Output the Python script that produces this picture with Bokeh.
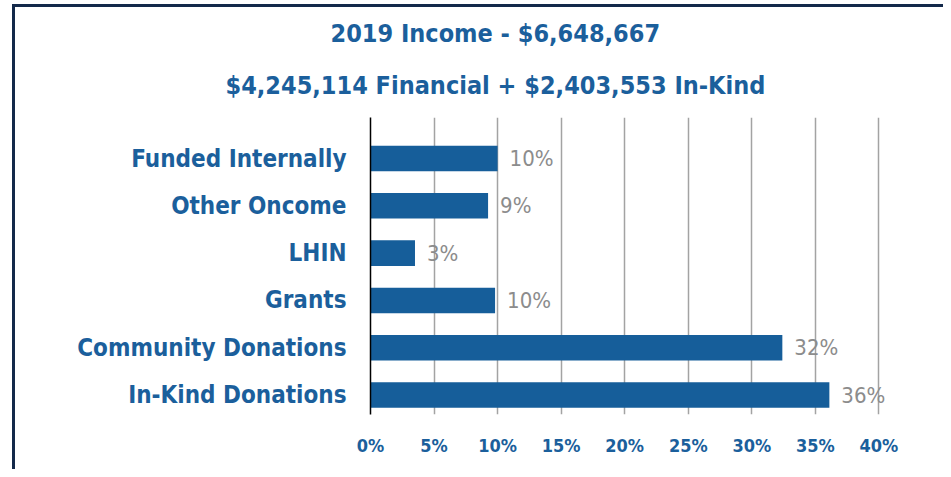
from bokeh.plotting import figure
from bokeh.models import ColumnDataSource, FixedTicker, Title
from bokeh.core.properties import value
from bokeh.embed import file_html
from bokeh.resources import INLINE

# ---- data ----
categories = ["Funded Internally", "Other Oncome", "LHIN", "Grants",
              "Community Donations", "In-Kind Donations"]
shares = [10.0, 9.25, 3.5, 9.8, 32.4, 36.1]          # percent of income
share_labels = ["10%", "9%", "3%", "10%", "32%", "36%"]
x_ticks = [0, 5, 10, 15, 20, 25, 30, 35, 40]
x_tick_labels = ["0%", "5%", "10%", "15%", "20%", "25%", "30%", "35%", "40%"]
title_line1 = "2019 Income - $6,648,667"
title_line2 = "$4,245,114 Financial + $2,403,553 In-Kind"

BLUE = "#165e9a"
TEXT_BLUE = "#1b5f9c"
GRAY = "#8c8c8c"
NAVY = "#13294a"
FONT = "DejaVu Sans Condensed"

n = len(categories)
ypos = [n - 1 - i for i in range(n)]
src = ColumnDataSource(dict(y=ypos, v=shares, lab=share_labels, cat=categories))

p = figure(width=943, height=469, output_backend="svg", toolbar_location=None,
           x_range=(0, 45), y_range=(-0.412, n - 1 + 0.867),
           min_border_left=370, min_border_right=1,
           min_border_top=117, min_border_bottom=55)
p.styles = {"box-shadow": (f"inset 12px 0 0 white, inset 0 4px 0 white, "
                           f"inset 15px 0 0 {NAVY}, inset 0 7px 0 {NAVY}")}
p.outline_line_color = None
p.background_fill_color = "white"
p.border_fill_color = None

p.hbar(y="y", right="v", left=0, height=0.54, source=src,
       fill_color=BLUE, line_color=None)
p.text(x="v", y="y", text="lab", source=src, x_offset=12,
       text_align="left", text_baseline="middle",
       text_font=value(FONT), text_font_size="22px", text_color=GRAY)

# x axis
xa = p.xaxis[0]
xa.ticker = FixedTicker(ticks=x_ticks)
xa.major_label_overrides = {t: l for t, l in zip(x_ticks, x_tick_labels)}
xa.axis_line_color = None
xa.major_tick_line_color = None
xa.minor_tick_line_color = None
xa.major_tick_out = 0
xa.major_label_standoff = 20
xa.major_label_text_font = FONT
xa.major_label_text_font_style = "bold"
xa.major_label_text_font_size = "18px"
xa.major_label_text_color = TEXT_BLUE

# y axis
ya = p.yaxis[0]
ya.ticker = FixedTicker(ticks=ypos)
ya.major_label_overrides = {y: c for y, c in zip(ypos, categories)}
ya.axis_line_color = "black"
ya.axis_line_width = 1.5
ya.major_tick_line_color = None
ya.minor_tick_line_color = None
ya.major_tick_out = 0
ya.major_label_standoff = 24
ya.major_label_text_font = FONT
ya.major_label_text_font_style = "bold"
ya.major_label_text_font_size = "24px"
ya.major_label_text_color = TEXT_BLUE

p.ygrid.grid_line_color = None
p.xgrid.grid_line_color = "#a3a3a3"
p.xgrid.grid_line_width = 1.5

# titles (second line added first: it sits next to the frame)
for txt, off, so in ((title_line2, -145, 36), (title_line1, -40, 5)):
    p.add_layout(Title(text=txt, align="left", offset=off, standoff=so,
                       text_font=FONT, text_font_style="bold",
                       text_font_size="25px", text_color=TEXT_BLUE), "above")

open("out.html", "w").write(file_html(p, INLINE))
